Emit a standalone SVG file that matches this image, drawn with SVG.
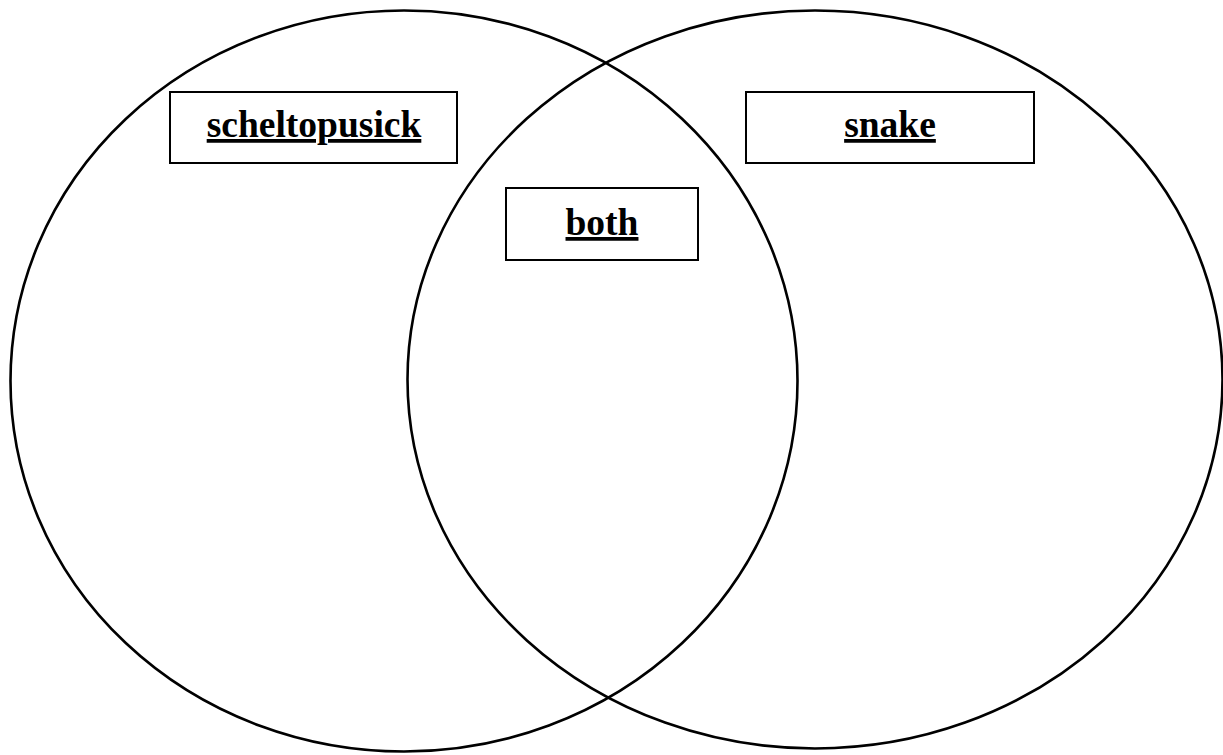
<svg xmlns="http://www.w3.org/2000/svg" width="1223" height="755" viewBox="0 0 1223 755">
<style>
.ring{fill:none;stroke:#000;stroke-width:2.6}
.box{fill:#fff;stroke:#000;stroke-width:2}
.lbl{font-family:"Liberation Serif","Times New Roman",serif;font-weight:bold;font-size:37.5px;text-anchor:middle;text-decoration:underline;fill:#000}
</style>
<rect width="1223" height="755" fill="#fff"/>
<g id="set-left"><ellipse class="ring" cx="404" cy="381" rx="393.5" ry="370.5"/></g>
<g id="set-right"><ellipse class="ring" cx="815" cy="379.5" rx="407.5" ry="369"/></g>
<g id="label-scheltopusick"><rect class="box" x="170" y="92" width="287" height="71"/><text class="lbl" x="314" y="137">scheltopusick</text></g>
<g id="label-snake"><rect class="box" x="746" y="92" width="288" height="71"/><text class="lbl" x="890" y="137">snake</text></g>
<g id="label-both"><rect class="box" x="506" y="188" width="192" height="72"/><text class="lbl" x="602" y="235">both</text></g>
<g id="connectors"></g>
</svg>
